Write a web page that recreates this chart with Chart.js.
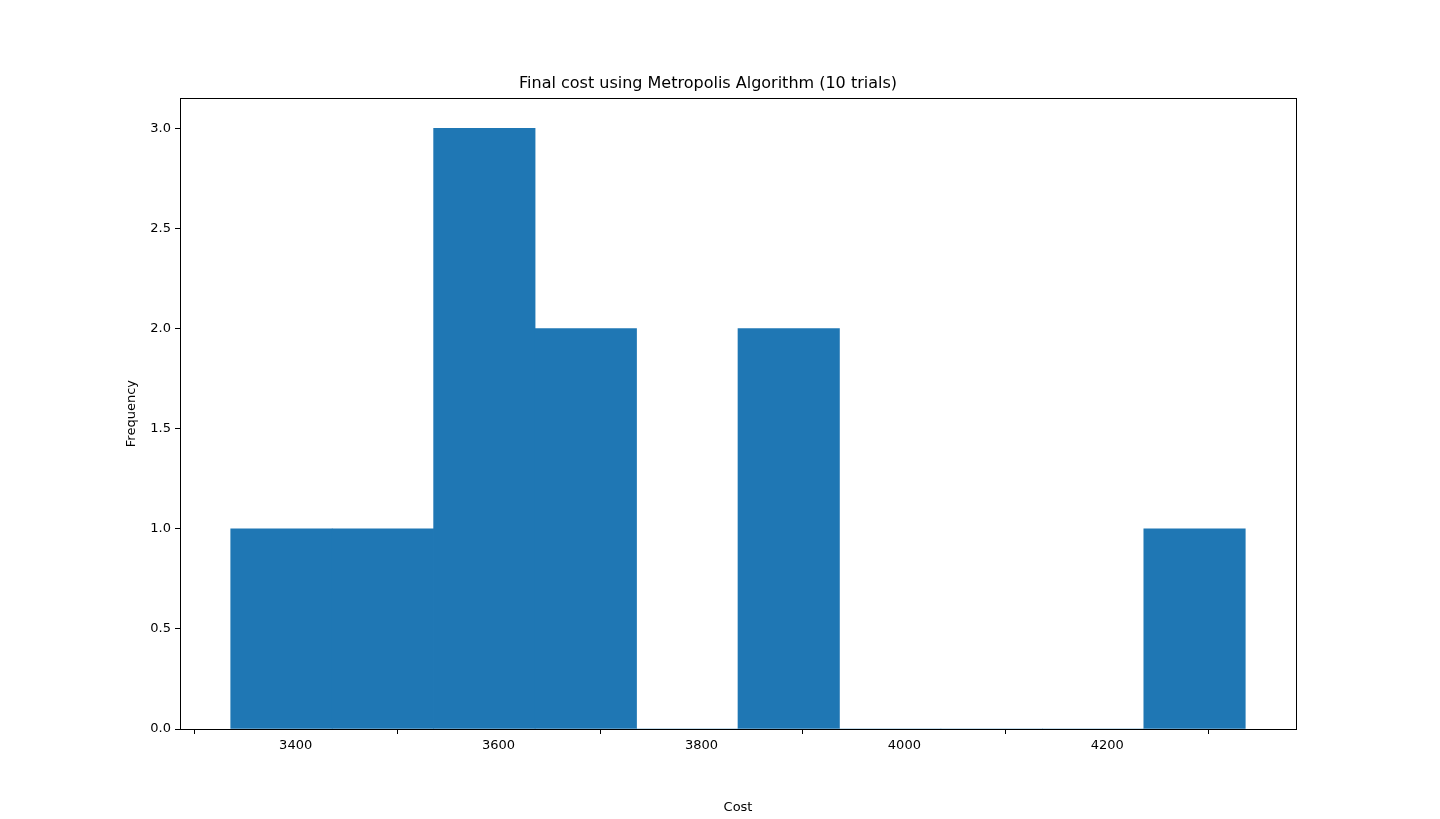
<!DOCTYPE html>
<html>
<head>
<meta charset="utf-8">
<script src="https://cdn.jsdelivr.net/npm/chart.js@4"></script>
<style>
  html, body { margin: 0; padding: 0; background: #fff; }
  #wrap { width: 1440px; height: 819px; }
</style>
</head>
<body>
<div id="wrap"><canvas id="histChart"></canvas></div>
<script>
// histogram bins (left edges) and counts
var binEdges = [3336, 3436, 3536, 3636, 3736, 3836, 3936, 4036, 4136, 4236, 4336];
var counts = [1, 1, 3, 2, 0, 2, 0, 0, 0, 1];
var xTicks = [3400, 3600, 3800, 4000, 4200];
var yTicks = [0, 0.5, 1, 1.5, 2, 2.5, 3];

Chart.defaults.font.family = 'DejaVu Sans';
Chart.defaults.color = '#000';

var points = counts.map(function (c, i) {
    return { x: (binEdges[i] + binEdges[i + 1]) / 2, y: c };
});

// frame around the plot area, like matplotlib
var framePlugin = {
    id: 'frame',
    afterDraw: function (chart) {
        var a = chart.chartArea, c = chart.ctx;
        c.save();
        c.strokeStyle = '#000';
        c.lineWidth = 1;
        c.strokeRect(Math.round(a.left) + 0.5, Math.round(a.top) + 0.5,
            Math.round(a.right - a.left), Math.round(a.bottom - a.top));
        c.restore();
    }
};

var ctx = document.getElementById('histChart').getContext('2d');
var histChart = new Chart(ctx, {
    type: 'bar',
    data: {
        datasets: [{
            data: points,
            backgroundColor: '#1f77b4',
            barPercentage: 1,
            categoryPercentage: 1,
            borderWidth: 0
        }]
    },
    options: {
        responsive: true,
        maintainAspectRatio: false,
        animation: false,
        layout: { padding: { left: 120, right: 144, top: 0, bottom: 0 } },
        plugins: {
            legend: { display: false },
            tooltip: { enabled: false },
            title: {
                display: true,
                text: 'Final cost using Metropolis Algorithm (10 trials)',
                font: { size: 16, weight: 'normal' },
                padding: { top: 74, bottom: 5 }
            }
        },
        scales: {
            x: {
                type: 'linear',
                min: 3286,
                max: 4386,
                offset: false,
                afterFit: function (s) { s.height = 90; },
                afterBuildTicks: function (s) {
                    s.ticks = xTicks.map(function (v) { return { value: v }; });
                },
                ticks: { font: { size: 13 }, padding: 4, callback: function (v) { return String(v); } },
                grid: { drawOnChartArea: false, tickLength: 5, color: '#000' },
                border: { color: '#000' },
                title: { display: true, text: 'Cost', font: { size: 13 }, padding: { top: 4 } }
            },
            y: {
                min: 0,
                max: 3.15,
                afterFit: function (s) { s.width = 60; },
                afterBuildTicks: function (s) {
                    s.ticks = yTicks.map(function (v) { return { value: v }; });
                },
                ticks: { font: { size: 13 }, padding: 4, callback: function (v) { return v.toFixed(1); } },
                grid: { drawOnChartArea: false, tickLength: 5, color: '#000' },
                border: { color: '#000' },
                title: { display: true, text: 'Frequency', font: { size: 13 }, padding: { bottom: 4 } }
            }
        }
    },
    plugins: [framePlugin]
});
</script>
</body>
</html>
